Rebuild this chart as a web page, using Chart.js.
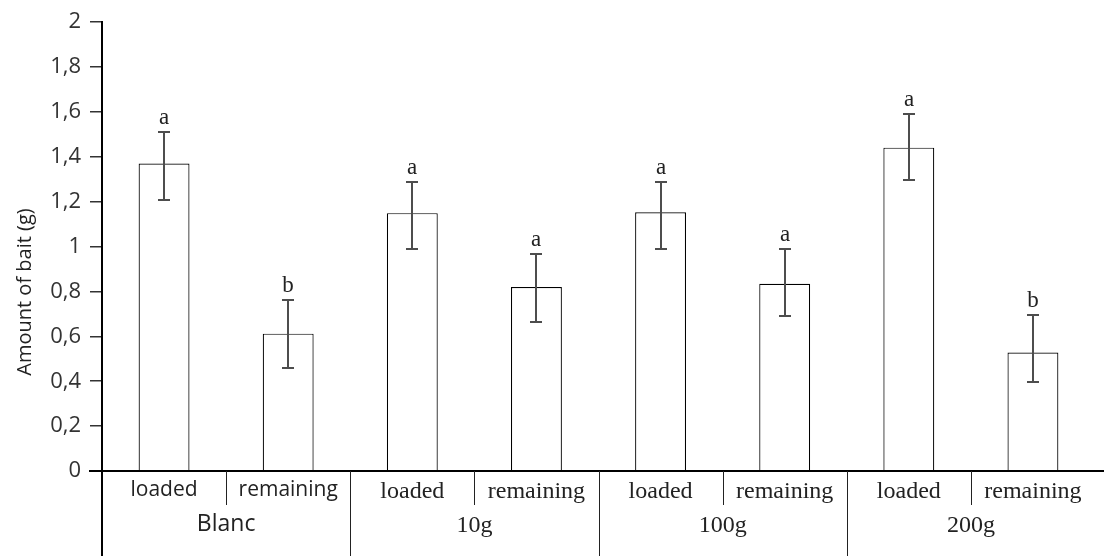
<!DOCTYPE html>
<html>
<head>
<meta charset="utf-8">
<script src="https://cdn.jsdelivr.net/npm/chart.js@4"></script>
<style>
  html, body { margin: 0; padding: 0; background: #fff; }
  #wrap { width: 1104px; height: 556px; position: relative; }
</style>
</head>
<body>
<div id="wrap"><canvas id="c" width="1104" height="556"></canvas></div>
<script>
// ---- data ----
const categories = ['loaded', 'remaining', 'loaded', 'remaining', 'loaded', 'remaining', 'loaded', 'remaining'];
const groups = ['Blanc', '10g', '100g', '200g'];
const values = [1.37, 0.612, 1.149, 0.82, 1.153, 0.834, 1.441, 0.528];
const errUp = [0.14, 0.151, 0.141, 0.147, 0.137, 0.155, 0.151, 0.168];
const errDown = [0.164, 0.151, 0.16, 0.155, 0.164, 0.142, 0.146, 0.133];
const letters = ['a', 'b', 'a', 'a', 'a', 'a', 'a', 'b'];
const yTickLabels = ['0', '0,2', '0,4', '0,6', '0,8', '1', '1,2', '1,4', '1,6', '1,8', '2'];
const yTitle = 'Amount of bait (g)';

const SANS = '"Open Sans", "DejaVu Sans", sans-serif';
const SERIF = '"Liberation Serif", "DejaVu Serif", serif';

const decor = {
  id: 'decor',
  afterDatasetsDraw(chart) {
    const ctx = chart.ctx;
    const y = chart.scales.y;
    const meta = chart.getDatasetMeta(0);
    ctx.save();
    ctx.strokeStyle = '#4d4d4d';
    ctx.lineWidth = 2;
    meta.data.forEach((bar, i) => {
      const x = Math.round(bar.x);
      const yt = Math.round(y.getPixelForValue(values[i] + errUp[i]));
      const yb = Math.round(y.getPixelForValue(values[i] - errDown[i]));
      ctx.beginPath();
      ctx.moveTo(x, yt); ctx.lineTo(x, yb);
      ctx.moveTo(x - 6, yt); ctx.lineTo(x + 6, yt);
      ctx.moveTo(x - 6, yb); ctx.lineTo(x + 6, yb);
      ctx.stroke();
      ctx.fillStyle = '#222';
      ctx.font = '23px ' + SERIF;
      ctx.textAlign = 'center';
      ctx.textBaseline = 'alphabetic';
      ctx.fillText(letters[i], x, yt - 8);
    });
    ctx.restore();
  },
  afterDraw(chart) {
    const ctx = chart.ctx;
    const x = chart.scales.x;
    const y = chart.scales.y;
    const y0 = Math.round(y.getPixelForValue(0));
    const H = chart.height;
    ctx.save();
    ctx.strokeStyle = '#000';
    ctx.lineWidth = 2;
    ctx.beginPath();
    ctx.moveTo(89, y0); ctx.lineTo(chart.width, y0);
    ctx.stroke();
    ctx.beginPath();
    ctx.moveTo(chart.chartArea.left, y0); ctx.lineTo(chart.chartArea.left, H);
    ctx.stroke();
    ctx.lineWidth = 1;
    ctx.strokeStyle = '#222';
    for (let i = 0; i < categories.length - 1; i++) {
      const bx = Math.round((x.getPixelForValue(i) + x.getPixelForValue(i + 1)) / 2) + 0.5;
      ctx.beginPath();
      ctx.moveTo(bx, y0);
      ctx.lineTo(bx, i % 2 === 0 ? y0 + 34 : H);
      ctx.stroke();
    }
    ctx.fillStyle = '#222';
    ctx.font = '20px ' + SANS;
    ctx.textAlign = 'center';
    ctx.textBaseline = 'middle';
    ctx.translate(25, 292);
    ctx.rotate(-Math.PI / 2);
    ctx.fillText(yTitle, 0, 0);
    ctx.restore();
  }
};

new Chart(document.getElementById('c'), {
  type: 'bar',
  data: {
    labels: categories,
    datasets: [{
      data: values,
      backgroundColor: '#ffffff',
      borderColor: '#000000',
      borderWidth: 1.2,
      barPercentage: 0.41,
      categoryPercentage: 1.0
    }]
  },
  options: {
    responsive: false,
    animation: false,
    events: [],
    layout: { padding: { top: 19, right: 9, left: 0, bottom: 0 } },
    plugins: { legend: { display: false }, tooltip: { enabled: false }, title: { display: false } },
    scales: {
      y: {
        min: 0, max: 2,
        afterFit(scale) { scale.width = 102; },
        ticks: {
          stepSize: 0.2,
          padding: 9,
          color: '#333',
          font: { family: SANS, size: 22 },
          callback: (v, i) => yTickLabels[i]
        },
        grid: { display: true, drawOnChartArea: false, drawTicks: true, tickLength: 12, color: '#333', lineWidth: 1.5 },
        border: { display: true, color: '#000', width: 2 }
      },
      x: {
        position: 'bottom',
        offset: true,
        afterFit(scale) { scale.height = 40; },
        grid: { display: false, drawTicks: false },
        border: { display: false },
        ticks: {
          autoSkip: false, maxRotation: 0, minRotation: 0,
          padding: 6,
          color: '#222',
          font: (c) => (c.index < 2 ? { family: SANS, size: 21 } : { family: SERIF, size: 24 })
        }
      },
      x2: {
        type: 'category',
        position: 'bottom',
        labels: groups,
        offset: true,
        afterFit(scale) { scale.height = 45; },
        grid: { display: false, drawTicks: false },
        border: { display: false },
        ticks: {
          autoSkip: false, maxRotation: 0, minRotation: 0,
          padding: 0,
          color: '#222',
          font: (c) => (c.index === 0 ? { family: SANS, size: 23 } : { family: SERIF, size: 24 })
        }
      }
    }
  },
  plugins: [decor]
});
</script>
</body>
</html>
